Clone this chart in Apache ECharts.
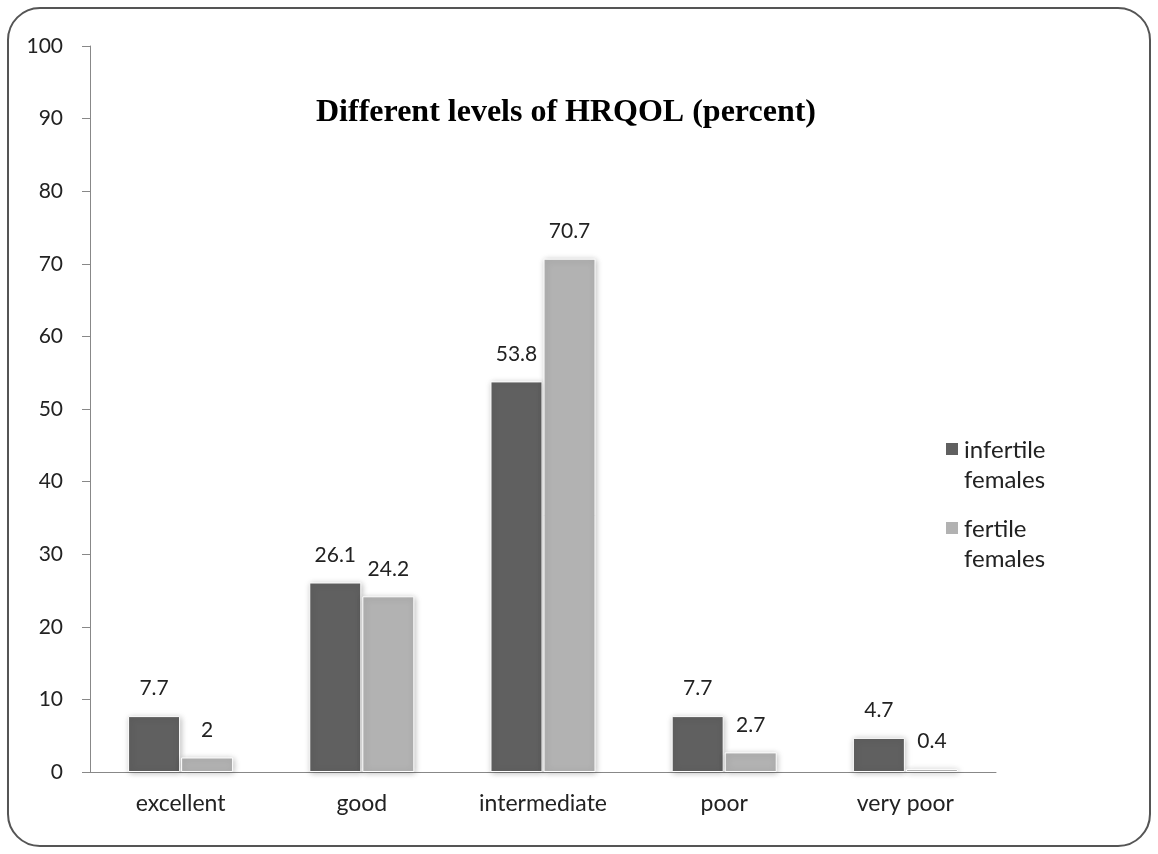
<!DOCTYPE html>
<html><head><meta charset="utf-8">
<script src="https://cdn.jsdelivr.net/npm/echarts@6/dist/echarts.min.js"></script>
<style>html,body{margin:0;padding:0;background:#fff}#c{width:1158px;height:854px}</style>
</head><body><div id="c"></div>
<script>
const categories = ['excellent','good','intermediate','poor','very poor'];
const infertile = [7.7, 26.1, 53.8, 7.7, 4.7];
const fertile = [2, 24.2, 70.7, 2.7, 0.4];
const seriesNames = ['infertile\nfemales','fertile\nfemales'];
const titleText = 'Different levels of HRQOL (percent)';

const chart = echarts.init(document.getElementById('c'));
const font = 'Lato, "Open Sans", sans-serif';
const barStyle = (c) => ({color:c, borderColor:'#fff', borderWidth:1, shadowColor:'rgba(0,0,0,0.25)', shadowBlur:6, shadowOffsetX:1, shadowOffsetY:1});
const lab = {show:true, position:'top', distance:17, color:'#222', fontSize:21, fontFamily:font};
const legendIcon = 'path://M0,0L14,0L14,0.01L0,0.01Z M0,7L14,7L14,21L0,21Z M0,60L14,60L14,60.01L0,60.01Z';
chart.setOption({
  animation:false,
  title:{text:titleText, left:561, top:92, textAlign:'center', textStyle:{fontFamily:'"Liberation Serif", "Times New Roman", serif', fontWeight:'bold', fontSize:32, color:'#000'}},
  graphic:[{type:'rect', shape:{x:8, y:8, width:1142, height:838, r:32}, style:{fill:'none', stroke:'#555', lineWidth:2}}],
  legend:{orient:'vertical', left:939, top:429, itemGap:17, itemWidth:14, itemHeight:60, icon:legendIcon,
    textStyle:{fontSize:24, fontFamily:font, color:'#222', lineHeight:30}, data:seriesNames},
  grid:{left:90, right:162, top:46, bottom:82},
  xAxis:{type:'category', data:categories,
    axisLine:{lineStyle:{color:'#888'}}, axisTick:{length:8, lineStyle:{color:'#888'}},
    axisLabel:{fontSize:23, fontFamily:font, color:'#222', margin:20}},
  yAxis:{type:'value', min:0, max:100, interval:10, splitLine:{show:false},
    axisLine:{show:true, lineStyle:{color:'#888'}}, axisTick:{show:true, length:8, lineStyle:{color:'#888'}},
    axisLabel:{fontSize:21, fontFamily:font, color:'#222', margin:27}},
  series:[
    {name:seriesNames[0], type:'bar', data:infertile, barWidth:52, barGap:'2%', itemStyle:barStyle('#606060'), label:lab},
    {name:seriesNames[1], type:'bar', data:fertile, barWidth:52, itemStyle:barStyle('#b2b2b2'), label:lab}
  ]
});
</script></body></html>
